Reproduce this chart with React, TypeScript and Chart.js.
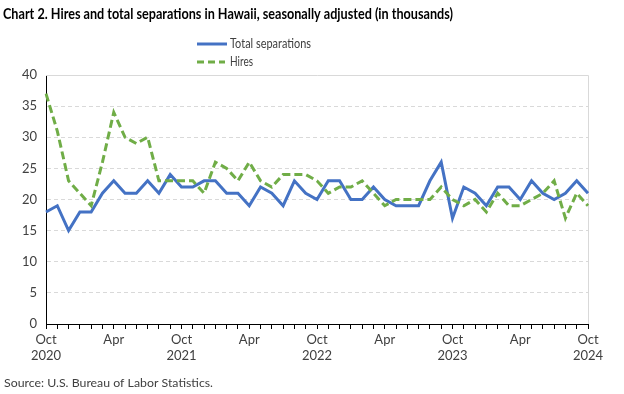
import React, { useEffect, useRef } from 'react';
import { Chart, registerables } from 'chart.js';
Chart.register(...registerables);

const months = [
  'Oct 2020', 'Nov 2020', 'Dec 2020',
  'Jan 2021', 'Feb 2021', 'Mar 2021', 'Apr 2021', 'May 2021', 'Jun 2021', 'Jul 2021', 'Aug 2021', 'Sep 2021', 'Oct 2021', 'Nov 2021', 'Dec 2021',
  'Jan 2022', 'Feb 2022', 'Mar 2022', 'Apr 2022', 'May 2022', 'Jun 2022', 'Jul 2022', 'Aug 2022', 'Sep 2022', 'Oct 2022', 'Nov 2022', 'Dec 2022',
  'Jan 2023', 'Feb 2023', 'Mar 2023', 'Apr 2023', 'May 2023', 'Jun 2023', 'Jul 2023', 'Aug 2023', 'Sep 2023', 'Oct 2023', 'Nov 2023', 'Dec 2023',
  'Jan 2024', 'Feb 2024', 'Mar 2024', 'Apr 2024', 'May 2024', 'Jun 2024', 'Jul 2024', 'Aug 2024', 'Sep 2024', 'Oct 2024',
];

const separations = [
  18, 19, 15, 18, 18, 21, 23, 21, 21, 23, 21, 24, 22, 22, 23,
  23, 21, 21, 19, 22, 21, 19, 23, 21, 20, 23, 23,
  20, 20, 22, 20, 19, 19, 19, 23, 26, 17, 22, 21,
  19, 22, 22, 20, 23, 21, 20, 21, 23, 21,
];

const hires = [
  37, 31, 23, 21, 19, 26, 34, 30, 29, 30, 23, 23, 23, 23, 21,
  26, 25, 23, 26, 23, 22, 24, 24, 24, 23, 21, 22,
  22, 23, 21, 19, 20, 20, 20, 20, 22, 20, 19, 20,
  18, 21, 19, 19, 20, 21, 23, 17, 21, 19,
];

const shownMonths = ['Oct', 'Apr'];
const yMin = 0;
const yMax = 40;
const yStep = 5;

const TITLE = 'Chart 2. Hires and total separations in Hawaii, seasonally adjusted (in thousands)';
const SOURCE = 'Source: U.S. Bureau of Labor Statistics.';
const SERIES_NAMES = ['Total separations', 'Hires'];
const BLUE = '#4472C4';
const GREEN = '#70AD47';
const FONT = 'Lato, "Noto Sans", sans-serif';

function fillTextFit(ctx: CanvasRenderingContext2D, text: string, x: number, y: number, width: number) {
  const w = ctx.measureText(text).width;
  const s = w > 0 ? width / w : 1;
  ctx.save();
  ctx.translate(x, y);
  ctx.scale(s, 1);
  ctx.fillText(text, 0, 0);
  ctx.restore();
}

const decorPlugin = {
  id: 'decor',
  beforeDatasetsDraw(chart: any) {
    const { ctx, chartArea } = chart;
    ctx.save();
    ctx.strokeStyle = '#d9d9d9';
    ctx.lineWidth = 1;
    ctx.setLineDash([]);
    ctx.beginPath();
    ctx.moveTo(chartArea.left, chartArea.top + 0.5);
    ctx.lineTo(chartArea.right + 0.5, chartArea.top + 0.5);
    ctx.lineTo(chartArea.right + 0.5, chartArea.bottom);
    ctx.stroke();
    ctx.restore();
  },
  afterDraw(chart: any) {
    const { ctx } = chart;
    ctx.save();
    // title
    ctx.fillStyle = '#000';
    ctx.font = `bold 14.5px ${FONT}`;
    ctx.textBaseline = 'middle';
    ctx.textAlign = 'left';
    fillTextFit(ctx, TITLE, 3, 14, 450);
    // legend
    ctx.font = `13px ${FONT}`;
    ctx.fillStyle = '#404040';
    ctx.lineWidth = 3;
    ctx.strokeStyle = BLUE;
    ctx.setLineDash([]);
    ctx.beginPath();
    ctx.moveTo(197, 44);
    ctx.lineTo(227, 44);
    ctx.stroke();
    fillTextFit(ctx, SERIES_NAMES[0], 230, 44, 81);
    ctx.strokeStyle = GREEN;
    ctx.setLineDash([7, 4]);
    ctx.beginPath();
    ctx.moveTo(197, 62);
    ctx.lineTo(225, 62);
    ctx.stroke();
    ctx.setLineDash([]);
    fillTextFit(ctx, SERIES_NAMES[1], 230, 62, 23);
    // source
    ctx.font = `12px ${FONT}`;
    fillTextFit(ctx, SOURCE, 4, 383, 209);
    ctx.restore();
  },
};

export default function App() {
  const ref = useRef<HTMLCanvasElement | null>(null);
  useEffect(() => {
    if (!ref.current) return;
    const chart = new Chart(ref.current, {
      type: 'line',
      data: {
        labels: months,
        datasets: [
          {
            label: SERIES_NAMES[1],
            data: hires,
            borderColor: GREEN,
            borderWidth: 3,
            borderDash: [8, 4],
            pointRadius: 0,
            tension: 0,
            fill: false,
          },
          {
            label: SERIES_NAMES[0],
            data: separations,
            borderColor: BLUE,
            borderWidth: 3,
            pointRadius: 0,
            tension: 0,
            fill: false,
          },
        ],
      },
      options: {
        animation: false,
        responsive: false,
        maintainAspectRatio: false,
        layout: { padding: { top: 75, right: 36, left: 0, bottom: 0 } },
        plugins: {
          legend: { display: false },
          title: { display: false },
          tooltip: { enabled: false },
        },
        scales: {
          x: {
            type: 'category',
            offset: false,
            afterFit(scale: any) {
              scale.height = 70;
            },
            grid: {
              drawOnChartArea: false,
              drawTicks: true,
              tickLength: 5,
              color: '#000',
              lineWidth: 1,
            },
            border: { display: true, color: '#000', width: 1 },
            ticks: {
              autoSkip: false,
              maxRotation: 0,
              minRotation: 0,
              padding: 3,
              color: '#404040',
              font: { family: FONT, size: 13 },
              callback(value: any) {
                const lab = months[value as number];
                const [m, y] = lab.split(' ');
                if (!shownMonths.includes(m)) return '';
                return m === 'Oct' ? [m, y] : m;
              },
            },
          },
          y: {
            min: yMin,
            max: yMax,
            afterFit(scale: any) {
              scale.width = 46;
            },
            grid: {
              drawTicks: false,
              color: '#d9d9d9',
              lineWidth: 1,
            },
            border: { display: true, color: '#000', width: 1, dash: [4, 3] },
            ticks: {
              stepSize: yStep,
              padding: 9,
              color: '#404040',
              font: { family: FONT, size: 13 },
            },
          },
        },
      },
      plugins: [decorPlugin],
    } as any);
    return () => chart.destroy();
  }, []);
  return (
    <div style={{ position: 'absolute', left: 0, top: 0, width: 624, height: 394, background: '#fff' }}>
      <canvas ref={ref} width={624} height={394} style={{ display: 'block' }} />
    </div>
  );
}
